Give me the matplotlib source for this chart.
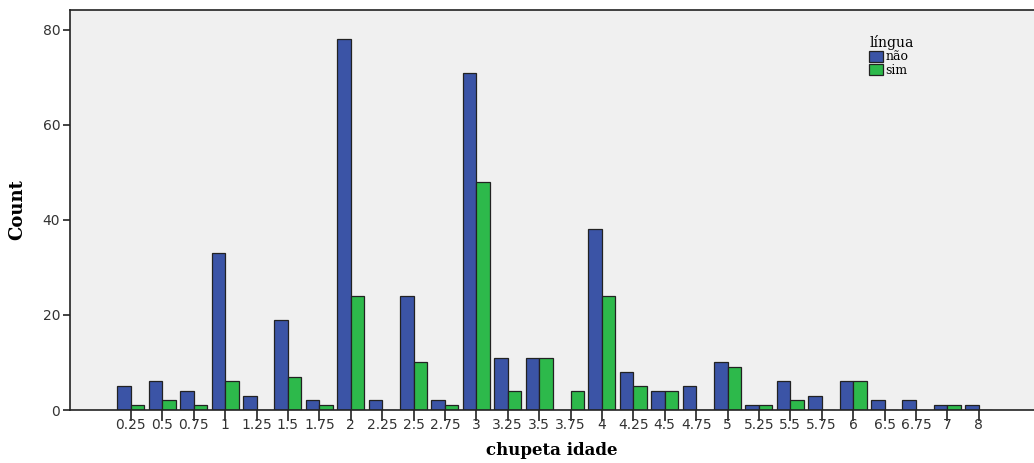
import numpy as np
import matplotlib
matplotlib.use("Agg")
from matplotlib import pyplot as plt

# ---- data ----
idade = ["0.25", "0.5", "0.75", "1", "1.25", "1.5", "1.75", "2", "2.25", "2.5",
         "2.75", "3", "3.25", "3.5", "3.75", "4", "4.25", "4.5", "4.75", "5",
         "5.25", "5.5", "5.75", "6", "6.5", "6.75", "7", "8"]
nao = [5, 6, 4, 33, 3, 19, 2, 78, 2, 24, 2, 71, 11, 11, 0, 38, 8, 4, 5, 10,
       1, 6, 3, 6, 2, 2, 1, 1]
sim = [1, 2, 1, 6, 0, 7, 1, 24, 0, 10, 1, 48, 4, 11, 4, 24, 5, 4, 0, 9,
       1, 2, 0, 6, 0, 0, 1, 0]

cor_nao = "#3B54A6"
cor_sim = "#2DB94B"

fig = plt.figure(figsize=(10.34, 4.63), dpi=100)
ax = fig.add_axes([70/1034, 53/463, 964/1034, 400/463])
ax.set_facecolor("#F0F0F0")

x = np.arange(len(idade))
w = 0.43
ax.bar(x - w/2, nao, width=w, color=cor_nao, edgecolor="#222222", linewidth=0.9, label="não")
ax.bar(x + w/2, sim, width=w, color=cor_sim, edgecolor="#222222", linewidth=0.9, label="sim")

ax.set_xlim(-1.94, 28.76)
ax.set_ylim(0, 84.2)
ax.set_xticks(x)
ax.set_xticklabels(idade, fontsize=10, color="#333333")
ax.set_yticks([0, 20, 40, 60, 80])
ax.set_yticklabels(["0", "20", "40", "60", "80"], fontsize=10, color="#333333")
ax.tick_params(axis="x", length=8, width=1.2, color="#222222", pad=-2)
ax.tick_params(axis="y", length=5, width=1.2, color="#222222", pad=2)

for s in ["left", "bottom", "top"]:
    ax.spines[s].set_color("#222222")
    ax.spines[s].set_linewidth(1.2)
ax.spines["right"].set_visible(False)

ax.set_ylabel("Count", fontsize=13, fontweight="bold", family="DejaVu Serif", labelpad=12)
ax.set_xlabel("chupeta idade", fontsize=12, fontweight="bold", family="DejaVu Serif", labelpad=7)

leg = ax.legend(title="língua", loc="upper left", bbox_to_anchor=(0.82, 0.96),
                frameon=False, handlelength=1.1, handleheight=1.0,
                handletextpad=0.2, labelspacing=0.05, borderpad=0.2,
                prop={"family": "DejaVu Serif", "size": 9})
leg.get_title().set_family("DejaVu Serif")
leg.get_title().set_fontsize(10)
leg._legend_box.align = "left"

fig.savefig("out.png", dpi=100)
